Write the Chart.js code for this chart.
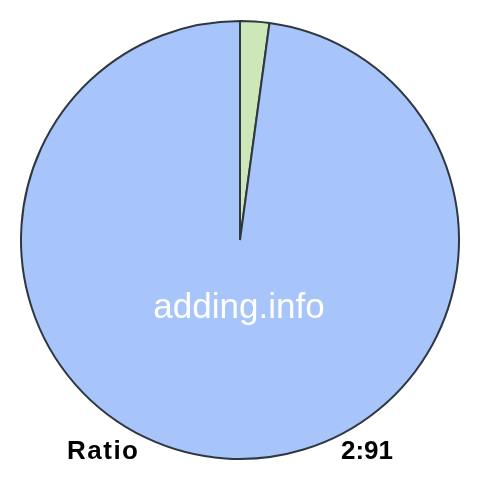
<!DOCTYPE html>
<html>
<head>
<meta charset="utf-8">
<script src="https://cdn.jsdelivr.net/npm/chart.js@4/dist/chart.umd.min.js"></script>
<style>
html,body{margin:0;padding:0;background:#fff;}
#wrap{width:480px;height:480px;}
</style>
</head>
<body>
<div id="wrap"><canvas id="c" width="480" height="480"></canvas></div>
<script>
const categories = ["2", "91"];
const values = [2, 91];
const colors = ["#cde7b8", "#a7c5fa"];
const watermark = "adding.info";
const footerLeft = "Ratio";
const footerRight = "2:91";

const textPlugin = {
  id: 'texts',
  afterDraw(chart) {
    const ctx = chart.ctx;
    const meta = chart.getDatasetMeta(0);
    const arc = meta.data[0];
    const cx = arc.x, cy = arc.y, r = arc.outerRadius;
    ctx.save();
    ctx.fillStyle = '#ffffff';
    ctx.font = '35px "Liberation Sans", Arial, sans-serif';
    ctx.textAlign = 'center';
    ctx.textBaseline = 'alphabetic';
    ctx.fillText(watermark, cx - 1, cy + r * 0.355);
    ctx.fillStyle = '#000000';
    ctx.font = 'bold 26px "Liberation Sans", Arial, sans-serif';
    ctx.textAlign = 'left';
    ctx.letterSpacing = '1.5px';
    ctx.fillText(footerLeft, 67, 459);
    ctx.letterSpacing = '0px';
    ctx.textAlign = 'right';
    ctx.fillText(footerRight, 393, 459);
    ctx.restore();
  }
};

new Chart(document.getElementById('c'), {
  type: 'pie',
  data: {
    labels: categories,
    datasets: [{
      data: values,
      backgroundColor: colors,
      borderColor: '#2f3840',
      borderWidth: 2
    }]
  },
  options: {
    responsive: false,
    animation: false,
    devicePixelRatio: 1,
    layout: { padding: 20 },
    plugins: {
      legend: { display: false },
      tooltip: { enabled: false }
    }
  },
  plugins: [textPlugin]
});
</script>
</body>
</html>
